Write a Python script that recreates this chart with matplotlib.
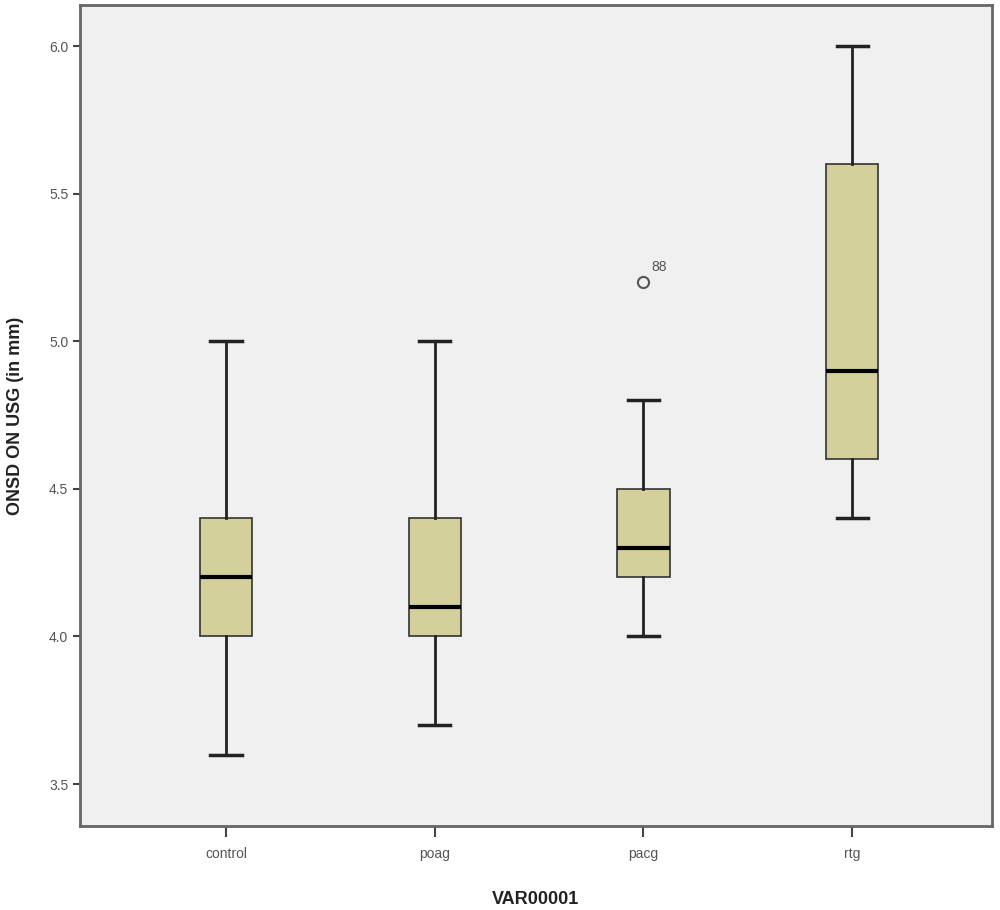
import matplotlib
matplotlib.use("Agg")
import matplotlib.pyplot as plt

plt.rcParams['font.family'] = ['Liberation Sans', 'DejaVu Sans']

categories = ["control", "poag", "pacg", "rtg"]
whislo = [3.6, 3.7, 4.0, 4.4]
q1 = [4.0, 4.0, 4.2, 4.6]
med = [4.2, 4.1, 4.3, 4.9]
q3 = [4.4, 4.4, 4.5, 5.6]
whishi = [5.0, 5.0, 4.8, 6.0]
fliers = [[], [], [5.2], []]
flier_labels = [[], [], ["88"], []]
yticks = [3.5, 4.0, 4.5, 5.0, 5.5, 6.0]

stats = []
for i, c in enumerate(categories):
    stats.append(dict(label=c, whislo=whislo[i], q1=q1[i], med=med[i],
                      q3=q3[i], whishi=whishi[i], fliers=fliers[i]))

fig = plt.figure(figsize=(10, 9.1), dpi=100)
ax = fig.add_axes([0.08, 0.0923, 0.912, 0.9022])
ax.set_facecolor("#F0F0F0")
positions = [1, 2, 3, 4]
ax.bxp(stats, positions=positions, widths=0.25, patch_artist=True,
       showfliers=True,
       boxprops=dict(facecolor="#D4D09C", edgecolor="#333333", linewidth=1.2),
       medianprops=dict(color="black", linewidth=3),
       whiskerprops=dict(color="#222222", linewidth=2),
       capprops=dict(color="#222222", linewidth=2.5),
       capwidths=0.15,
       flierprops=dict(marker="o", markerfacecolor="none", markeredgecolor="#555555",
                       markersize=8, markeredgewidth=1.5))
for i, (fl, lb) in enumerate(zip(fliers, flier_labels)):
    for v, t in zip(fl, lb):
        ax.annotate(t, (positions[i], v), xytext=(6, 8), textcoords="offset points",
                    fontsize=10, color="#555555")

ax.set_xlim(0.3, 4.67)
ax.set_ylim(3.358, 6.139)
ax.set_yticks(yticks)
ax.set_yticklabels([f"{v:.1f}" for v in yticks])
ax.set_xticks(positions)
ax.set_xticklabels(categories)
ax.tick_params(axis="both", colors="#444444", labelsize=10, length=5, width=1.5)
ax.tick_params(axis="y", labelcolor="#555555")
ax.tick_params(axis="x", labelcolor="#555555", length=8, pad=7)
for s in ax.spines.values():
    s.set_color("#666666")
    s.set_linewidth(2)
ax.set_ylabel("ONSD ON USG (in mm)", fontsize=13, fontweight="bold", color="#222222", labelpad=18)
ax.set_xlabel("VAR00001", fontsize=13, fontweight="bold", color="#222222", labelpad=22)
fig.savefig("out.png", dpi=100, facecolor="white")
